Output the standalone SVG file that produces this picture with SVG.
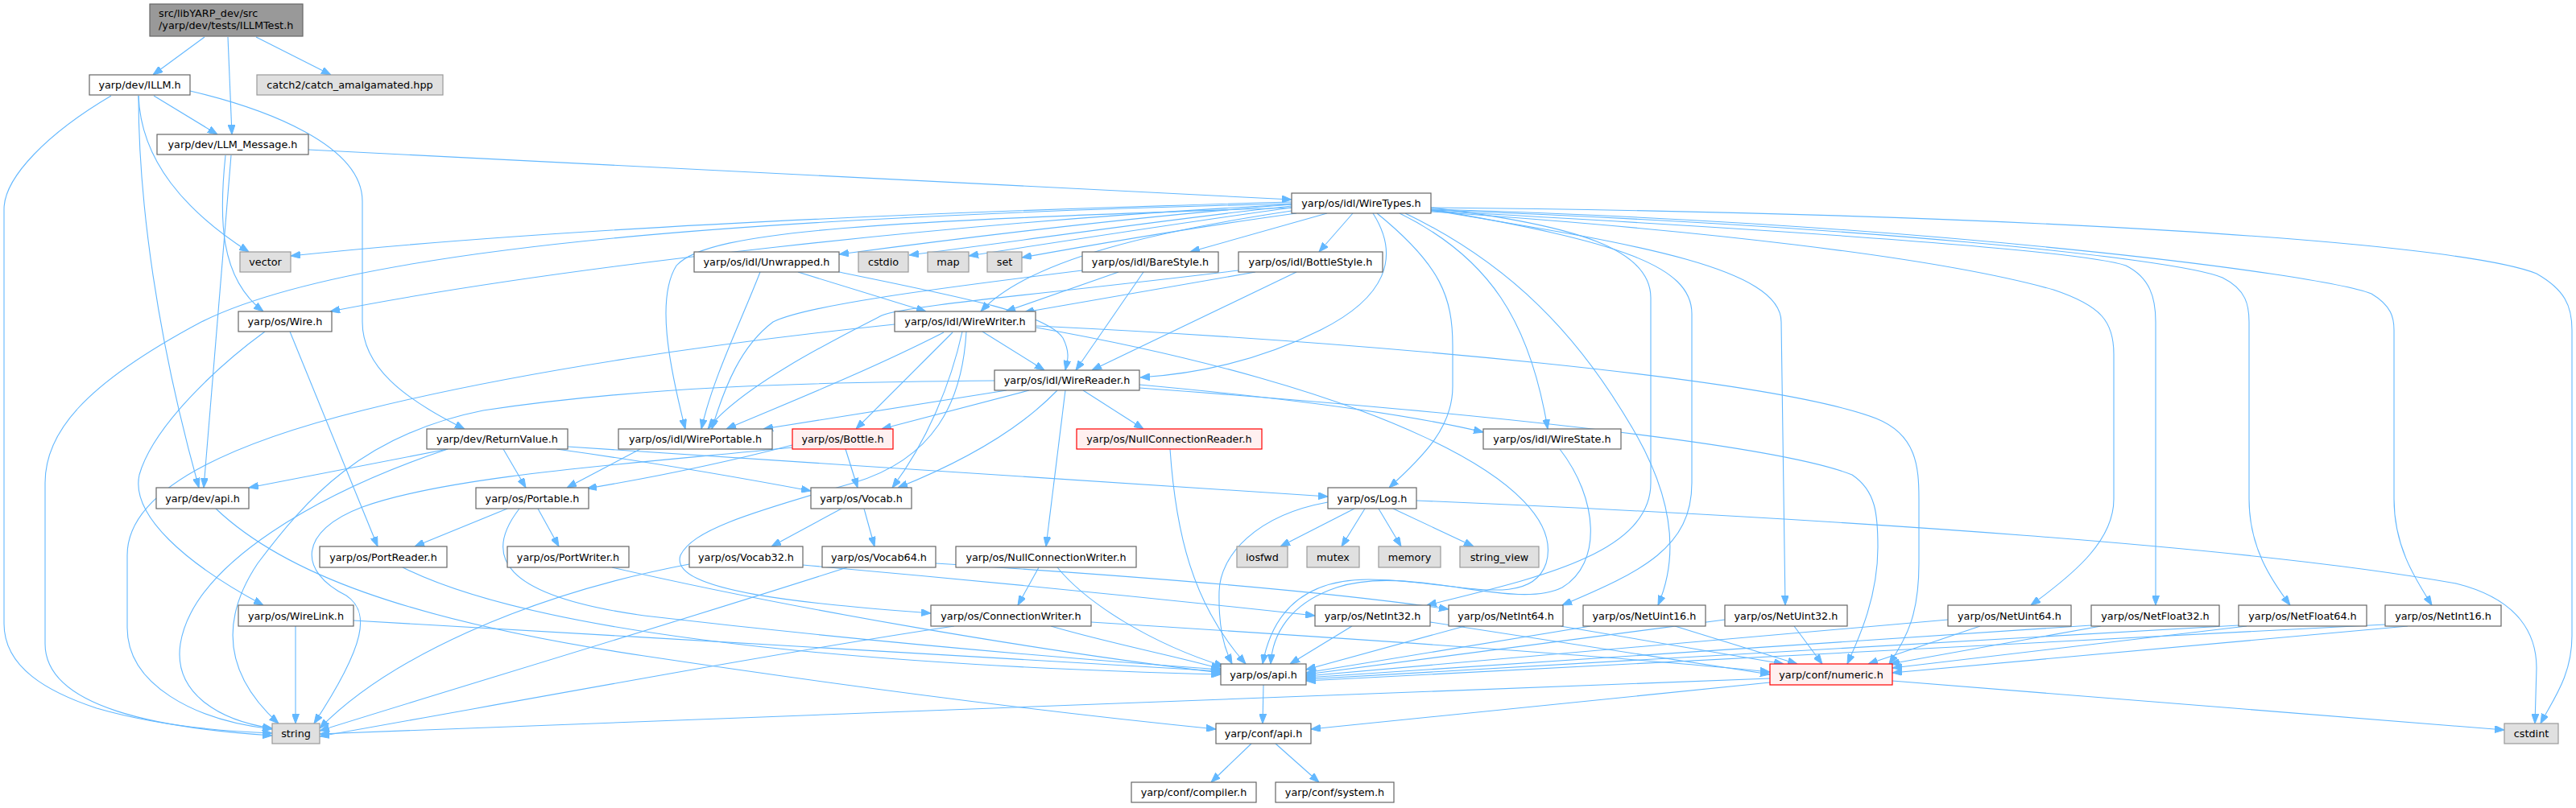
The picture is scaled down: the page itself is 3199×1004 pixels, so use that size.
<svg xmlns="http://www.w3.org/2000/svg" width="3199" height="1004" viewBox="0 0 3199 1004">
<style>
.node rect{fill:#ffffff;stroke:#666666;stroke-width:1.2}
.node.g rect{fill:#e0e0e0;stroke:#999999}
.node.r rect{fill:#fff0f0;stroke:#ff0000}
.node.m rect{fill:#999999;stroke:#666666}
.node text{font-family:"DejaVu Sans","Liberation Sans",sans-serif;font-size:12.8px;fill:#000000;text-anchor:middle}
.node.m text{text-anchor:start}
#edges path{fill:none;stroke:#63b8ff;stroke-width:1.1;marker-end:url(#ah)}
</style>
<defs>
<marker id="ah" viewBox="0 0 12 9" markerWidth="12" markerHeight="9" refX="12" refY="4.5" orient="auto" markerUnits="userSpaceOnUse"><path d="M0,0 L12,4.5 L0,9 z" fill="#63b8ff" stroke="#63b8ff" stroke-width="1"/></marker>
</defs>
<rect x="0" y="0" width="3199" height="1004" fill="#ffffff"/>
<g id="edges">
<path d="M254,46 L190,93"/>
<path d="M283,46 L288,167"/>
<path d="M318,46 L411,93"/>
<path d="M191,119 L270,167"/>
<path d="M172,119 C175,200 230,262 309,313"/>
<path d="M172,119 C172,250 195,420 247,606"/>
<path d="M138,119 C60,165 5,220 5,260 L5,775 C5,830 60,860 120,880 C200,903 280,909 338,911"/>
<path d="M236,113 C330,135 450,180 450,250 L450,400 C450,455 500,495 577,533"/>
<path d="M383,186 L1604,248"/>
<path d="M287,193 L253,606"/>
<path d="M280,193 C272,270 272,345 327,387"/>
<path d="M1604,251 C1200,262 700,282 361,318"/>
<path d="M1604,253 C1000,268 450,300 250,400 C100,480 56,540 56,600 L56,800 C56,880 200,905 338,914"/>
<path d="M1604,254 C1400,270 1200,295 1042,316"/>
<path d="M1604,256 C1450,272 1300,295 1129,317"/>
<path d="M1604,258 C1480,275 1350,295 1203,318"/>
<path d="M1610,265 C1500,280 1380,300 1269,320"/>
<path d="M1648,265 L1478,313"/>
<path d="M1680,265 L1638,313"/>
<path d="M1604,254 C1200,275 700,330 410,387"/>
<path d="M1604,262 C1450,285 1280,320 1218,387"/>
<path d="M1705,265 C1740,320 1720,370 1640,410 C1560,450 1480,465 1416,469"/>
<path d="M1604,258 C1100,275 880,285 840,330 C815,370 830,450 851,533"/>
<path d="M1738,265 C1850,320 1900,400 1922,533"/>
<path d="M1710,265 C1790,330 1804,370 1804,430 L1804,480 C1804,530 1770,565 1725,606"/>
<path d="M1777,258 C1960,280 2050,310 2050,370 L2050,600 C2050,690 1900,720 1772,752"/>
<path d="M1777,260 C2010,300 2101,330 2101,390 L2101,600 C2101,680 2040,710 1940,752"/>
<path d="M1745,265 C1880,330 1960,420 2020,520 C2070,600 2090,680 2059,752"/>
<path d="M1777,261 C2010,300 2212,330 2212,400 L2217,752"/>
<path d="M1777,263 C2100,285 2400,318 2550,360 C2610,380 2625,400 2625,440 L2625,620 C2625,670 2580,710 2522,752"/>
<path d="M1777,262 C2200,285 2580,310 2640,330 C2670,345 2677,370 2677,400 L2677,752"/>
<path d="M1777,261 C2300,280 2700,320 2760,345 C2790,360 2793,380 2793,400 L2793,620 C2793,680 2820,720 2844,752"/>
<path d="M1777,260 C2400,278 2880,340 2945,365 C2970,380 2973,395 2973,410 L2973,620 C2973,680 3000,720 3020,752"/>
<path d="M1777,258 C2500,265 3050,300 3150,340 C3185,360 3194,380 3194,410 L3194,790 C3194,840 3170,870 3155,899"/>
<path d="M1682,632 L1590,679"/>
<path d="M1695,632 L1666,679"/>
<path d="M1712,632 L1740,679"/>
<path d="M1730,632 L1830,679"/>
<path d="M1759,622 C2300,645 2800,680 3050,725 C3130,745 3150,790 3150,830 L3148,899"/>
<path d="M1649,624 C1560,640 1515,690 1514,735 C1513,780 1520,805 1530,825"/>
<path d="M1453,558 C1460,660 1480,750 1547,825"/>
<path d="M1290,705 L1264,752"/>
<path d="M1313,705 C1350,750 1430,800 1520,828"/>
<path d="M1305,778 C1380,800 1460,815 1516,831"/>
<path d="M1185,778 C1000,805 650,870 397,915"/>
<path d="M1355,773 C1700,795 2000,815 2198,835"/>
<path d="M367,778 L367,899"/>
<path d="M439,771 C800,792 1200,815 1516,834"/>
<path d="M500,705 C650,780 1000,825 1516,838"/>
<path d="M760,705 C1000,760 1300,810 1516,836"/>
<path d="M630,632 L515,679"/>
<path d="M668,632 L694,679"/>
<path d="M645,632 C600,690 620,740 800,765 C1100,800 1350,820 1516,832"/>
<path d="M556,558 L309,606"/>
<path d="M556,558 C400,610 240,700 224,800 C215,860 270,895 338,905"/>
<path d="M625,558 L653,606"/>
<path d="M691,558 C800,573 900,590 1007,610"/>
<path d="M705,555 C1000,575 1400,600 1649,617"/>
<path d="M795,558 L704,606"/>
<path d="M984,553 C900,575 800,595 729,607"/>
<path d="M1050,558 L1065,606"/>
<path d="M984,556 C800,575 560,590 450,630 C370,660 370,710 430,740 C460,760 455,800 390,899"/>
<path d="M1045,632 L958,679"/>
<path d="M1073,632 L1086,679"/>
<path d="M856,701 C650,740 480,820 397,905"/>
<path d="M997,702 C1200,720 1450,745 1633,765"/>
<path d="M1052,705 C850,770 550,860 397,908"/>
<path d="M1162,700 C1400,715 1650,735 1799,757"/>
<path d="M1220,412 L1297,460"/>
<path d="M1172,413 C1080,460 980,500 902,533"/>
<path d="M1183,413 L1063,533"/>
<path d="M1195,412 C1180,480 1150,550 1108,606"/>
<path d="M1200,412 C1195,500 1160,570 1060,600 C920,640 860,660 845,690 C830,735 1000,750 1156,762"/>
<path d="M1111,403 C900,425 650,460 450,510 C250,560 158,620 158,690 L158,780 C158,850 240,895 338,906"/>
<path d="M1287,407 C1700,480 1950,600 1920,700 C1900,760 1800,720 1700,720 C1620,720 1580,760 1568,825"/>
<path d="M1287,405 C1700,425 2200,470 2330,520 C2380,540 2383,580 2383,620 L2383,700 C2383,760 2370,790 2346,825"/>
<path d="M1250,485 L948,533"/>
<path d="M1278,485 L1095,533"/>
<path d="M1313,485 C1260,540 1180,580 1115,606"/>
<path d="M1323,485 L1299,679"/>
<path d="M1345,485 L1420,533"/>
<path d="M1415,478 C1600,495 1750,515 1842,537"/>
<path d="M1415,482 C1800,510 2200,550 2300,590 C2330,610 2332,640 2332,680 C2332,740 2310,790 2294,825"/>
<path d="M1235,473 C1000,475 800,480 600,510 C450,540 380,620 320,700 C280,760 270,830 346,899"/>
<path d="M991,338 L1150,387"/>
<path d="M1042,338 C1200,370 1300,390 1320,420 C1330,440 1325,450 1323,460"/>
<path d="M944,338 C920,400 885,470 871,533"/>
<path d="M1389,338 L1249,387"/>
<path d="M1420,338 L1336,460"/>
<path d="M1344,336 C1150,360 1000,380 960,400 C920,430 900,480 884,533"/>
<path d="M1559,338 L1272,388"/>
<path d="M1610,338 L1356,460"/>
<path d="M1538,336 C1300,365 1120,380 1095,392 C1040,420 920,480 879,533"/>
<path d="M1679,778 L1602,825"/>
<path d="M1776,773 L2198,838"/>
<path d="M1819,778 L1622,832"/>
<path d="M1938,778 L2215,825"/>
<path d="M1975,778 L1622,836"/>
<path d="M2080,778 L2232,825"/>
<path d="M2142,770 L1622,838"/>
<path d="M2228,778 L2263,825"/>
<path d="M2419,770 L1622,840"/>
<path d="M2459,778 L2320,825"/>
<path d="M2597,777 L1622,842"/>
<path d="M2609,778 L2347,825"/>
<path d="M2780,777 L1622,844"/>
<path d="M2790,778 L2350,830"/>
<path d="M2962,776 L1622,846"/>
<path d="M2990,778 L2350,836"/>
<path d="M1569,851 L1568,899"/>
<path d="M2198,848 L1628,906"/>
<path d="M2198,843 L397,912"/>
<path d="M2350,846 L3110,907"/>
<path d="M268,632 C350,710 500,770 800,815 C1100,860 1350,890 1510,906"/>
<path d="M1554,924 L1504,972"/>
<path d="M1584,924 L1638,972"/>
<path d="M360,412 L469,679"/>
<path d="M329,412 C270,455 190,530 173,590 C162,640 230,700 327,752"/>
<path d="M1937,558 C1985,620 1990,700 1940,730 C1880,760 1750,700 1660,730 C1600,750 1580,790 1578,825"/>
</g>
<g id="n-main" class="node m"><rect x="186" y="5" width="190" height="40"/><text x="197" y="21">src/libYARP_dev/src</text><text x="197" y="36">/yarp/dev/tests/ILLMTest.h</text></g>
<g id="n-illm" class="node"><rect x="111" y="93" width="125" height="25"/><text x="173.5" y="110">yarp/dev/ILLM.h</text></g>
<g id="n-catch" class="node g"><rect x="319" y="93" width="231" height="25"/><text x="434.5" y="110">catch2/catch_amalgamated.hpp</text></g>
<g id="n-llm" class="node"><rect x="195" y="167" width="188" height="25"/><text x="289" y="184">yarp/dev/LLM_Message.h</text></g>
<g id="n-wiretypes" class="node"><rect x="1604" y="240" width="173" height="25"/><text x="1690.5" y="257">yarp/os/idl/WireTypes.h</text></g>
<g id="n-vector" class="node g"><rect x="298" y="313" width="63" height="25"/><text x="329.5" y="330">vector</text></g>
<g id="n-unwrapped" class="node"><rect x="862" y="313" width="180" height="25"/><text x="952" y="330">yarp/os/idl/Unwrapped.h</text></g>
<g id="n-cstdio" class="node g"><rect x="1066" y="313" width="62" height="25"/><text x="1097" y="330">cstdio</text></g>
<g id="n-map" class="node g"><rect x="1152" y="313" width="51" height="25"/><text x="1177.5" y="330">map</text></g>
<g id="n-set" class="node g"><rect x="1226" y="313" width="43" height="25"/><text x="1247.5" y="330">set</text></g>
<g id="n-barestyle" class="node"><rect x="1344" y="313" width="169" height="25"/><text x="1428.5" y="330">yarp/os/idl/BareStyle.h</text></g>
<g id="n-bottlestyle" class="node"><rect x="1538" y="313" width="179" height="25"/><text x="1627.5" y="330">yarp/os/idl/BottleStyle.h</text></g>
<g id="n-wire" class="node"><rect x="296" y="387" width="116" height="25"/><text x="354" y="404">yarp/os/Wire.h</text></g>
<g id="n-wirewriter" class="node"><rect x="1111" y="387" width="175" height="25"/><text x="1198.5" y="404">yarp/os/idl/WireWriter.h</text></g>
<g id="n-wirereader" class="node"><rect x="1235" y="460" width="180" height="25"/><text x="1325" y="477">yarp/os/idl/WireReader.h</text></g>
<g id="n-returnvalue" class="node"><rect x="530" y="533" width="175" height="25"/><text x="617.5" y="550">yarp/dev/ReturnValue.h</text></g>
<g id="n-wireportable" class="node"><rect x="768" y="533" width="191" height="25"/><text x="863.5" y="550">yarp/os/idl/WirePortable.h</text></g>
<g id="n-bottle" class="node r"><rect x="984" y="533" width="125" height="25"/><text x="1046.5" y="550">yarp/os/Bottle.h</text></g>
<g id="n-ncr" class="node r"><rect x="1337" y="533" width="230" height="25"/><text x="1452" y="550">yarp/os/NullConnectionReader.h</text></g>
<g id="n-wirestate" class="node"><rect x="1842" y="533" width="171" height="25"/><text x="1927.5" y="550">yarp/os/idl/WireState.h</text></g>
<g id="n-devapi" class="node"><rect x="194" y="606" width="115" height="26"/><text x="251.5" y="623.5">yarp/dev/api.h</text></g>
<g id="n-portable" class="node"><rect x="591" y="606" width="140" height="26"/><text x="661" y="623.5">yarp/os/Portable.h</text></g>
<g id="n-vocab" class="node"><rect x="1007" y="606" width="125" height="26"/><text x="1069.5" y="623.5">yarp/os/Vocab.h</text></g>
<g id="n-log" class="node"><rect x="1649" y="606" width="110" height="26"/><text x="1704" y="623.5">yarp/os/Log.h</text></g>
<g id="n-portreader" class="node"><rect x="397" y="679" width="158" height="26"/><text x="476" y="696.5">yarp/os/PortReader.h</text></g>
<g id="n-portwriter" class="node"><rect x="630" y="679" width="151" height="26"/><text x="705.5" y="696.5">yarp/os/PortWriter.h</text></g>
<g id="n-vocab32" class="node"><rect x="856" y="679" width="141" height="26"/><text x="926.5" y="696.5">yarp/os/Vocab32.h</text></g>
<g id="n-vocab64" class="node"><rect x="1021" y="679" width="141" height="26"/><text x="1091.5" y="696.5">yarp/os/Vocab64.h</text></g>
<g id="n-ncw" class="node"><rect x="1187" y="679" width="224" height="26"/><text x="1299" y="696.5">yarp/os/NullConnectionWriter.h</text></g>
<g id="n-iosfwd" class="node g"><rect x="1536" y="679" width="63" height="26"/><text x="1567.5" y="696.5">iosfwd</text></g>
<g id="n-mutex" class="node g"><rect x="1623" y="679" width="65" height="26"/><text x="1655.5" y="696.5">mutex</text></g>
<g id="n-memory" class="node g"><rect x="1712" y="679" width="77" height="26"/><text x="1750.5" y="696.5">memory</text></g>
<g id="n-stringview" class="node g"><rect x="1813" y="679" width="98" height="26"/><text x="1862" y="696.5">string_view</text></g>
<g id="n-wirelink" class="node"><rect x="296" y="752" width="143" height="26"/><text x="367.5" y="769.5">yarp/os/WireLink.h</text></g>
<g id="n-connwriter" class="node"><rect x="1156" y="752" width="199" height="26"/><text x="1255.5" y="769.5">yarp/os/ConnectionWriter.h</text></g>
<g id="n-netint32" class="node"><rect x="1633" y="752" width="143" height="26"/><text x="1704.5" y="769.5">yarp/os/NetInt32.h</text></g>
<g id="n-netint64" class="node"><rect x="1799" y="752" width="142" height="26"/><text x="1870" y="769.5">yarp/os/NetInt64.h</text></g>
<g id="n-netuint16" class="node"><rect x="1966" y="752" width="152" height="26"/><text x="2042" y="769.5">yarp/os/NetUint16.h</text></g>
<g id="n-netuint32" class="node"><rect x="2142" y="752" width="152" height="26"/><text x="2218" y="769.5">yarp/os/NetUint32.h</text></g>
<g id="n-netuint64" class="node"><rect x="2419" y="752" width="153" height="26"/><text x="2495.5" y="769.5">yarp/os/NetUint64.h</text></g>
<g id="n-netfloat32" class="node"><rect x="2597" y="752" width="159" height="26"/><text x="2676.5" y="769.5">yarp/os/NetFloat32.h</text></g>
<g id="n-netfloat64" class="node"><rect x="2780" y="752" width="159" height="26"/><text x="2859.5" y="769.5">yarp/os/NetFloat64.h</text></g>
<g id="n-netint16" class="node"><rect x="2962" y="752" width="144" height="26"/><text x="3034" y="769.5">yarp/os/NetInt16.h</text></g>
<g id="n-osapi" class="node"><rect x="1516" y="825" width="106" height="26"/><text x="1569" y="842.5">yarp/os/api.h</text></g>
<g id="n-numeric" class="node r"><rect x="2198" y="825" width="152" height="26"/><text x="2274" y="842.5">yarp/conf/numeric.h</text></g>
<g id="n-string" class="node g"><rect x="338" y="899" width="59" height="25"/><text x="367.5" y="916">string</text></g>
<g id="n-confapi" class="node"><rect x="1510" y="899" width="118" height="25"/><text x="1569" y="916">yarp/conf/api.h</text></g>
<g id="n-cstdint" class="node g"><rect x="3110" y="899" width="67" height="25"/><text x="3143.5" y="916">cstdint</text></g>
<g id="n-compiler" class="node"><rect x="1405" y="972" width="155" height="25"/><text x="1482.5" y="989">yarp/conf/compiler.h</text></g>
<g id="n-system" class="node"><rect x="1584" y="972" width="147" height="25"/><text x="1657.5" y="989">yarp/conf/system.h</text></g>
</svg>
